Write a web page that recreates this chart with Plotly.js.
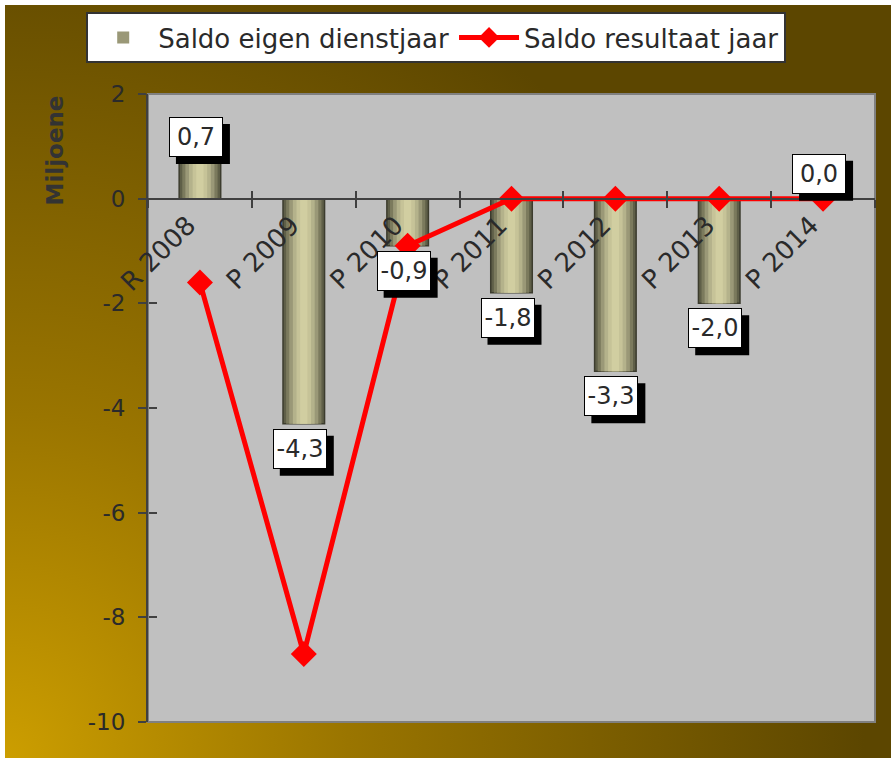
<!DOCTYPE html>
<html>
<head>
<meta charset="utf-8">
<script src="https://cdn.plot.ly/plotly-3.0.1.min.js"></script>
<style>
  html, body { margin: 0; padding: 0; background: #ffffff; }
  #wrap { position: relative; width: 891px; height: 758px; overflow: hidden; }
  #bg { position: absolute; left: 5px; top: 5px; width: 886px; height: 753px;
        background: radial-gradient(circle 860px at 0% 100%, #cc9e00 0%, #9a7500 40%, #5c4600 100%); }
  #chart { position: absolute; left: 0; top: 0; width: 891px; height: 758px; }
</style>
</head>
<body>
<div id="wrap"><div id="bg"></div><div id="chart"></div></div>
<script>
// ---- data ----
const categories = ['R 2008', 'P 2009', 'P 2010', 'P 2011', 'P 2012', 'P 2013', 'P 2014'];
const saldoEigenDienstjaar = [0.7, -4.3, -0.9, -1.8, -3.3, -2.0, 0.0];
const saldoResultaatJaar = [-1.6, -8.7, -0.9, 0.0, 0.0, 0.0, 0.0];
const yTickVals = [2, 0, -2, -4, -6, -8, -10];
const yTickText = ['2', '0', '-2', '-4', '-6', '-8', '-10'];
const seriesNames = ['Saldo eigen dienstjaar', 'Saldo resultaat jaar'];
const yTitle = 'Miljoene';

// ---- styles ----
const FONT = 'DejaVu Sans, Arial, sans-serif';
const TXT = '#2a2a2a';
const AX = '#404040';
const barLayers = [
  { w: 0.40, c: '#5f5f48' },
  { w: 0.34, c: '#7b7a5d' },
  { w: 0.28, c: '#9a9877' },
  { w: 0.21, c: '#b4b28b' },
  { w: 0.14, c: '#c6c398' },
  { w: 0.07, c: '#d1cea1' }
];

const traces = [];
barLayers.forEach((L, i) => {
  traces.push({
    type: 'bar',
    x: categories,
    y: saldoEigenDienstjaar,
    width: L.w,
    name: seriesNames[0],
    showlegend: i === 2,
    marker: { color: L.c, line: { color: i === 0 ? '#3c3c2e' : L.c, width: i === 0 ? 1.5 : 0 } },
    hoverinfo: 'skip'
  });
});
traces.push({
  type: 'scatter',
  mode: 'lines+markers',
  x: categories,
  y: saldoResultaatJaar,
  name: seriesNames[1],
  line: { color: '#ff0000', width: 5 },
  marker: { symbol: 'diamond', size: 20, color: '#ff0000' },
  cliponaxis: false
});
// invisible helper trace so the crossing-tick overlay axes are drawn
traces.push({
  type: 'scatter', mode: 'markers', x: categories, y: saldoResultaatJaar,
  xaxis: 'x2', yaxis: 'y2', marker: { opacity: 0 }, showlegend: false, hoverinfo: 'skip'
});

const fmt = v => v.toFixed(1).replace('.', ',');
const BOX_W = 54, BOX_H = 40, GAP = 5, XS = -4, SH = 7;
const annotations = [];
const shapes = [];
saldoEigenDienstjaar.forEach((v, i) => {
  const up = v >= 0;
  // shadow box (pixel-sized shape anchored at the data point)
  const by0 = up ? GAP : -GAP - BOX_H;
  const by1 = up ? GAP + BOX_H : -GAP;
  shapes.push({
    type: 'rect', xref: 'x', yref: 'y', xsizemode: 'pixel', ysizemode: 'pixel',
    xanchor: categories[i], yanchor: v,
    x0: XS - BOX_W / 2 + SH, x1: XS + BOX_W / 2 + SH,
    y0: by0 - SH, y1: by1 - SH,
    fillcolor: '#000000', line: { width: 0 }, layer: 'above'
  });
  annotations.push({
    x: categories[i], y: v, xref: 'x', yref: 'y', text: fmt(v), showarrow: false,
    xanchor: 'center', yanchor: up ? 'bottom' : 'top', xshift: XS, yshift: up ? GAP : -GAP,
    width: BOX_W - 8, height: BOX_H - 8,
    font: { family: FONT, size: 24, color: TXT },
    bgcolor: '#ffffff', bordercolor: '#000000', borderwidth: 1, borderpad: 3
  });
});
annotations.push({
  text: '<b>' + yTitle + '</b>', xref: 'paper', yref: 'paper', x: -0.128, y: 0.91,
  xanchor: 'center', yanchor: 'middle',
  showarrow: false, textangle: -90, font: { family: FONT, size: 23, color: '#333333' }
});
shapes.push({
  type: 'rect', xref: 'paper', yref: 'paper', x0: 0, x1: 1, y0: 0, y1: 1,
  line: { color: '#808080', width: 2 }, fillcolor: 'rgba(0,0,0,0)', layer: 'below'
});

const zeroPos = (0 - (-10)) / (2 - (-10));

const layout = {
  width: 891, height: 758,
  margin: { l: 148, r: 16, t: 94, b: 36 },
  paper_bgcolor: 'rgba(0,0,0,0)',
  plot_bgcolor: '#c0c0c0',
  barmode: 'overlay',
  font: { family: FONT, color: TXT },
  showlegend: true,
  legend: {
    orientation: 'h', x: -0.085, xanchor: 'left', y: 1.1306, yanchor: 'top',
    bgcolor: '#ffffff', bordercolor: '#333333', borderwidth: 2,
    font: { family: FONT, size: 26, color: TXT }, itemwidth: 60, traceorder: 'normal'
  },
  xaxis: {
    type: 'category', categoryorder: 'array', categoryarray: categories,
    range: [-0.5, 6.5], anchor: 'free', position: zeroPos,
    showline: true, linecolor: AX, linewidth: 2,
    ticks: 'outside', ticklen: 8, tickwidth: 2, tickcolor: AX, tickson: 'boundaries',
    tickangle: -45, tickfont: { family: FONT, size: 26, color: TXT }, ticklabelshift: -12,
    showgrid: false, zeroline: false, fixedrange: true
  },
  xaxis2: {
    type: 'category', categoryorder: 'array', categoryarray: categories,
    range: [-0.5, 6.5], overlaying: 'x', anchor: 'free', position: zeroPos,
    showline: false, ticks: 'inside', ticklen: 8, tickwidth: 2, tickcolor: AX,
    tickson: 'boundaries', showticklabels: false, showgrid: false, zeroline: false
  },
  yaxis: {
    range: [-10, 2], tickvals: yTickVals, ticktext: yTickText,
    showline: true, linecolor: AX, linewidth: 2,
    ticks: 'outside', ticklen: 8, tickwidth: 2, tickcolor: AX,
    tickfont: { family: FONT, size: 23, color: TXT }, ticklabelstandoff: 8,
    showgrid: false, zeroline: false, fixedrange: true
  },
  yaxis2: {
    range: [-10, 2], tickvals: yTickVals, overlaying: 'y', anchor: 'free', position: 0, side: 'left',
    showline: false, ticks: 'inside', ticklen: 8, tickwidth: 2, tickcolor: AX,
    showticklabels: false, showgrid: false, zeroline: false
  },
  shapes: shapes,
  annotations: annotations
};

Plotly.newPlot('chart', traces, layout, { displayModeBar: false, staticPlot: true });
</script>
</body>
</html>
